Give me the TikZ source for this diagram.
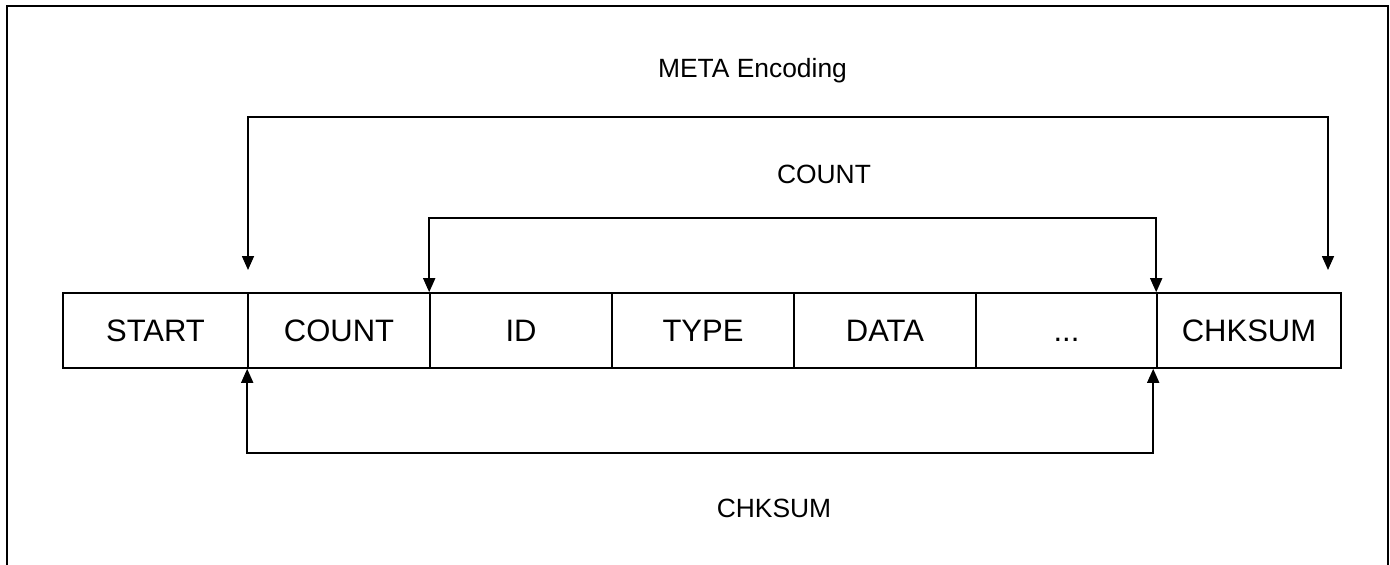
\documentclass[tikz,border=0pt]{standalone}
\usepackage{fontspec}
\setmainfont{Liberation Sans}
\usetikzlibrary{arrows.meta}
\tikzset{
  cell/.style={draw, line width=1.6pt, minimum height=75pt, inner sep=0pt, font=\fontsize{31}{31}\selectfont, text height=22pt, text depth=0pt},
  lbl/.style={font=\fontsize{26.4}{26.4}\selectfont, anchor=base, inner sep=0pt},
  conn/.style={line width=1.6pt, {Triangle[length=14pt,width=12pt]}-{Triangle[length=14pt,width=12pt]}},
  frame/.style={line width=2.2pt}
}
\begin{document}
\begin{tikzpicture}[x=1pt,y=-1pt]
\useasboundingbox (0,0) rectangle (1390,565);
\draw[frame] (7,570) -- (7,6) -- (1388,6) -- (1388,570);
% cells
\node[cell, minimum width=185pt] (c1) at (155.5,330.5) {START};
\node[cell, minimum width=182pt] (c2) at (339,330.5) {COUNT};
\node[cell, minimum width=182pt] (c3) at (521,330.5) {ID};
\node[cell, minimum width=182pt] (c4) at (703,330.5) {TYPE};
\node[cell, minimum width=182pt] (c5) at (885,330.5) {DATA};
\node[cell, minimum width=181pt] (c6) at (1066.5,330.5) {...};
\node[cell, minimum width=184pt] (c7) at (1249,330.5) {CHKSUM};
% labels
\node[lbl] (lmeta) at (752.5,77) {META Encoding};
\node[lbl] (lcount) at (824,183) {COUNT};
\node[lbl] (lchk) at (774,517) {CHKSUM};
% connectors
\coordinate (m1) at (248,270);
\coordinate (m2) at (1328,270);
\draw[conn] (m1) -- ++(0,-153) -| (m2);
\draw[conn] (c3.north west) -- ++(0,-74) -| (c7.north west);
\coordinate (k2) at ([xshift=-3pt]c7.south west);
\draw[conn] (c2.south west) -- ++(0,84) -| (k2);
\end{tikzpicture}
\end{document}
